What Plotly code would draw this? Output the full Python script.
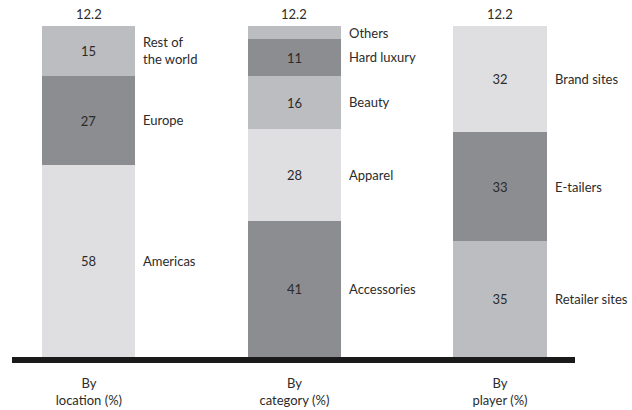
import plotly.graph_objects as go

# Online luxury sales split three ways (share of the 12.2 total, %)
groups = ["By<br>location (%)", "By<br>category (%)", "By<br>player (%)"]
totals = ["12.2", "12.2", "12.2"]

location_labels = ["Americas", "Europe", "Rest of<br>the world"]
location_values = [58, 27, 15]

category_labels = ["Accessories", "Apparel", "Beauty", "Hard luxury", "Others"]
category_values = [41, 28, 16, 11, 4]

player_labels = ["Retailer sites", "E-tailers", "Brand sites"]
player_values = [35, 33, 32]

LIGHT, MID, DARK = "#DFDFE1", "#BCBDC0", "#8C8D90"
location_colors = [LIGHT, DARK, MID]
category_colors = [DARK, LIGHT, MID, DARK, MID]
player_colors = [MID, DARK, LIGHT]

TEXT = "#2b2b2b"
FONT = "Lato"
BAR_W = 0.453

stacks = [
    (location_labels, location_values, location_colors),
    (category_labels, category_values, category_colors),
    (player_labels, player_values, player_colors),
]

fig = go.Figure()
annotations = []

for i, (labels, values, colors) in enumerate(stacks):
    base = 0
    for lab, val, col in zip(labels, values, colors):
        fig.add_trace(go.Bar(
            x=[i], y=[val], base=[base], width=BAR_W,
            marker=dict(color=col, line=dict(width=0)),
            text=[str(val) if val >= 5 else ""],
            textposition="inside", insidetextanchor="middle",
            textfont=dict(family=FONT, size=13, color=TEXT),
            hoverinfo="skip", showlegend=False,
        ))
        annotations.append(dict(
            x=i + BAR_W / 2, y=base + val / 2, xref="x", yref="y",
            text=lab, showarrow=False, xanchor="left", yanchor="middle",
            align="left", xshift=6,
            font=dict(family=FONT, size=13, color=TEXT),
        ))
        base += val
    annotations.append(dict(
        x=i, y=base, xref="x", yref="y", text=totals[i],
        showarrow=False, xanchor="center", yanchor="bottom", yshift=2,
        font=dict(family=FONT, size=13, color=TEXT),
    ))

fig.update_layout(
    width=632, height=410,
    margin=dict(l=12, r=57, t=0, b=53),
    paper_bgcolor="white", plot_bgcolor="white",
    barmode="overlay", bargap=0,
    annotations=annotations,
    xaxis=dict(
        range=[-0.374, 2.365],
        tickmode="array", tickvals=[0, 1, 2], ticktext=groups,
        showline=True, linecolor="#1a1a1a", linewidth=6,
        showgrid=False, zeroline=False, ticks="",
        ticklabelstandoff=9,
        tickfont=dict(family=FONT, size=13, color=TEXT),
    ),
    yaxis=dict(
        range=[0, 107.85], visible=False,
        showgrid=False, zeroline=False,
    ),
)

fig.write_html("out.html")
